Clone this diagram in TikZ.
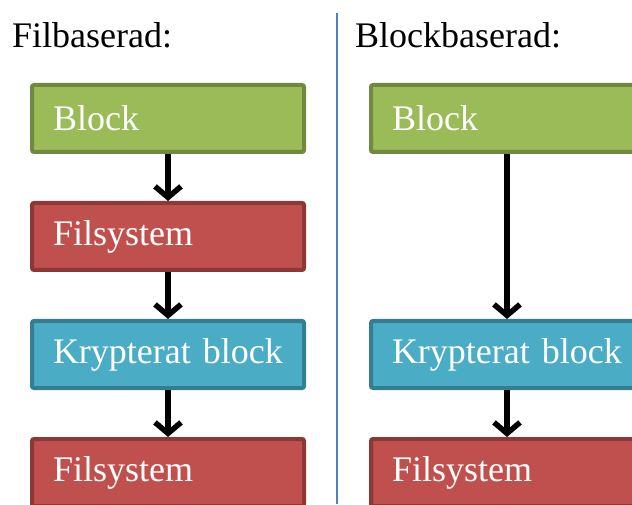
\documentclass[tikz,border=0pt]{standalone}
\usepackage{fontspec}
\setmainfont{Liberation Serif}
\usetikzlibrary{positioning,arrows.meta}

\definecolor{blkfill}{HTML}{9BBB59}
\definecolor{blkline}{HTML}{71893F}
\definecolor{fsfill}{HTML}{C0504D}
\definecolor{fsline}{HTML}{8C3836}
\definecolor{cryfill}{HTML}{4BACC6}
\definecolor{cryline}{HTML}{357D91}
\definecolor{divline}{HTML}{4F81BD}

\tikzset{
    box/.style={draw, line width=4pt, rounded corners=2pt,
        minimum width=272pt, minimum height=67pt,
        text width=230pt, inner xsep=21pt, inner ysep=0pt, align=left,
        text=white, font=\fontsize{36}{40}\selectfont},
    blk/.style={box, fill=blkfill, draw=blkline},
    fs/.style={box, fill=fsfill, draw=fsline},
    cry/.style={box, fill=cryfill, draw=cryline},
    flow/.style={line width=5.5pt, -{Straight Barb[length=11pt,width=26pt]}},
    heading/.style={anchor=base west, inner sep=0pt, font=\fontsize{36}{40}\selectfont}
}

\begin{document}
\begin{tikzpicture}[x=1pt,y=1pt]
        \useasboundingbox (0,0) rectangle (632,504);
        \clip (0,0) rectangle (632,504);
        % headings and divider
        \node[heading] (lhead) at (12,456) {Filbaserad:};
        \node[heading] (rhead) at (355,456) {Blockbaserad:};
        \draw[divline, line width=1.5pt] (337,491) -- (337,0);
        % file based stack
        \node[blk] (lblock) at (168,385.5) {Block};
        \node[fs, below=47pt of lblock] (lfs) {Filsystem};
        \node[cry, below=47pt of lfs] (lcry) {Krypterat block};
        \node[fs, below=47pt of lcry] (lfsb) {Filsystem};
        % block based stack
        \node[blk, right=63pt of lblock] (rblock) {Block};
        \node[cry, right=63pt of lcry] (rcry) {Krypterat block};
        \node[fs, right=63pt of lfsb] (rfsb) {Filsystem};
        \foreach \a/\b in {lblock/lfs, lfs/lcry, lcry/lfsb, rblock/rcry, rcry/rfsb} {
            \draw[flow] (\a) -- (\b);
        }
\end{tikzpicture}
\end{document}
